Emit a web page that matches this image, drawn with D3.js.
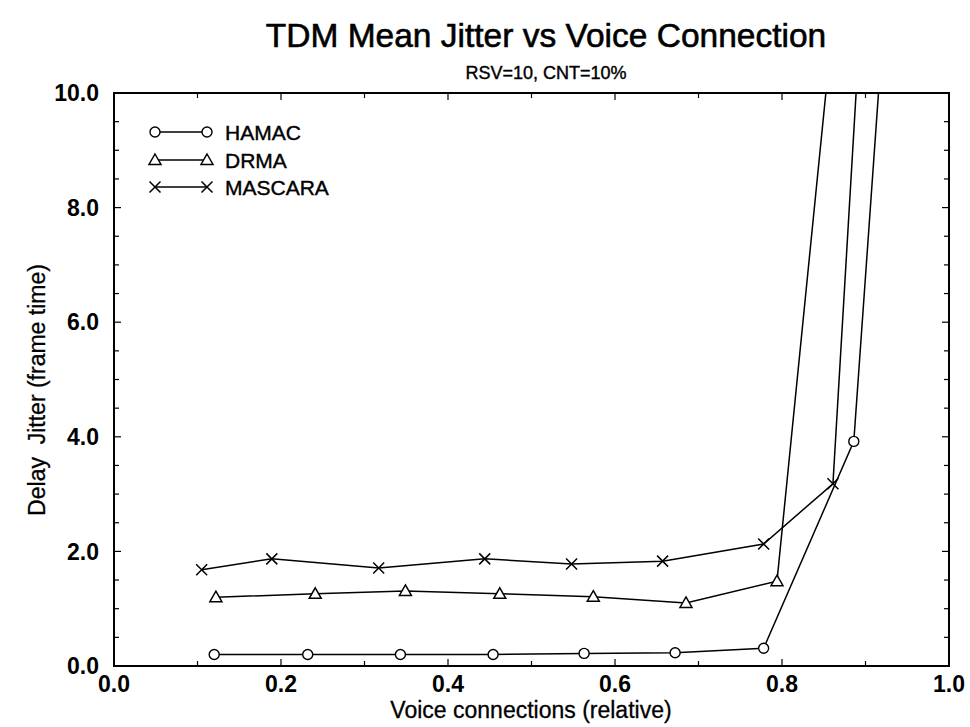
<!DOCTYPE html>
<html>
<head>
<meta charset="utf-8">
<script src="https://cdn.jsdelivr.net/npm/d3@7"></script>
<style>
  html, body { margin: 0; padding: 0; background: #fff; }
  svg { display: block; }
  text { font-family: "Liberation Sans", Arial, Helvetica, sans-serif; fill: #000; }
</style>
</head>
<body>
<svg id="chart" width="970" height="727"></svg>
<script>
// ---- data ----
const seriesNames = ["HAMAC", "DRMA", "MASCARA"];
const hamacX = [0.120, 0.232, 0.343, 0.454, 0.563, 0.672, 0.778, 0.886, 0.935];
const hamacY = [0.20, 0.20, 0.20, 0.20, 0.22, 0.23, 0.31, 3.92, 14.0];
const drmaX = [0.122, 0.241, 0.349, 0.462, 0.574, 0.685, 0.794, 0.880];
const drmaY = [1.20, 1.26, 1.31, 1.26, 1.21, 1.10, 1.48, 14.0];
const mascaraX = [0.105, 0.189, 0.317, 0.444, 0.548, 0.657, 0.778, 0.861, 0.905];
const mascaraY = [1.68, 1.87, 1.71, 1.87, 1.78, 1.83, 2.13, 3.18, 14.0];
const xTickValues = [0.0, 0.2, 0.4, 0.6, 0.8, 1.0];
const yTickValues = [0.0, 2.0, 4.0, 6.0, 8.0, 10.0];

const titleText = "TDM Mean Jitter vs Voice Connection";
const subtitleText = "RSV=10, CNT=10%";
const xTitle = "Voice connections (relative)";
const yTitle = "Delay\u00A0 Jitter (frame time)";

// ---- layout ----
const svg = d3.select("#chart");
const L = 114, R = 949, T = 93, B = 666;
const x = d3.scaleLinear().domain([0, 1]).range([L, R]);
const y = d3.scaleLinear().domain([0, 10]).range([B, T]);

const series = [
  { name: seriesNames[0], xs: hamacX, ys: hamacY, marker: "circle" },
  { name: seriesNames[1], xs: drmaX, ys: drmaY, marker: "triangle" },
  { name: seriesNames[2], xs: mascaraX, ys: mascaraY, marker: "cross" }
];

// clip
svg.append("defs").append("clipPath").attr("id", "plotclip")
  .append("rect").attr("x", L).attr("y", T).attr("width", R - L).attr("height", B - T);

// ticks (inward, all four sides)
const minorX = d3.range(0, 1.0001, 0.1);
const minorY = d3.range(0, 10.0001, 0.5);
const tickG = svg.append("g").attr("stroke", "#000").attr("stroke-width", 1.2);
minorX.forEach(v => {
  const major = Math.abs(Math.round(v * 5) - v * 5) < 1e-6;
  const len = major ? 7 : 5;
  tickG.append("line").attr("x1", x(v)).attr("x2", x(v)).attr("y1", B).attr("y2", B - len);
  tickG.append("line").attr("x1", x(v)).attr("x2", x(v)).attr("y1", T).attr("y2", T + len);
});
minorY.forEach(v => {
  const major = Math.abs(Math.round(v / 2) - v / 2) < 1e-6;
  const len = major ? 7 : 5;
  tickG.append("line").attr("x1", L).attr("x2", L + len).attr("y1", y(v)).attr("y2", y(v));
  tickG.append("line").attr("x1", R).attr("x2", R - len).attr("y1", y(v)).attr("y2", y(v));
});

// frame
svg.append("rect").attr("x", L).attr("y", T).attr("width", R - L).attr("height", B - T)
  .attr("fill", "none").attr("stroke", "#000").attr("stroke-width", 2);

// tick labels
svg.append("g").selectAll("text").data(xTickValues).join("text")
  .attr("x", d => x(d)).attr("y", 692)
  .attr("text-anchor", "middle")
  .style("font-size", "23px").style("font-weight", "bold")
  .text(d => d3.format(".1f")(d));
svg.append("g").selectAll("text").data(yTickValues).join("text")
  .attr("x", 99).attr("y", d => y(d))
  .attr("dy", "0.36em")
  .attr("text-anchor", "end")
  .style("font-size", "23px").style("font-weight", "bold")
  .text(d => d3.format(".1f")(d));

// titles
svg.append("text").attr("x", 546).attr("y", 47).attr("text-anchor", "middle")
  .style("font-size", "33.5px").attr("stroke", "#000").attr("stroke-width", 0.6)
  .text(titleText);
svg.append("text").attr("x", 546).attr("y", 79).attr("text-anchor", "middle")
  .style("font-size", "18px").attr("stroke", "#000").attr("stroke-width", 0.4)
  .text(subtitleText);
svg.append("text").attr("x", 531).attr("y", 718).attr("text-anchor", "middle")
  .style("font-size", "23px").attr("stroke", "#000").attr("stroke-width", 0.3)
  .text(xTitle);
svg.append("text").attr("transform", `translate(45,${390}) rotate(-90)`)
  .attr("text-anchor", "middle")
  .style("font-size", "23px").attr("stroke", "#000").attr("stroke-width", 0.3)
  .text(yTitle);

// markers
function drawMarker(g, type, cx, cy) {
  if (type === "circle") {
    g.append("circle").attr("cx", cx).attr("cy", cy).attr("r", 5)
      .attr("fill", "#fff").attr("stroke", "#000").attr("stroke-width", 1.4);
  } else if (type === "triangle") {
    const s = 6;
    g.append("path")
      .attr("d", `M${cx},${cy - s}L${cx + s},${cy + s * 0.75}L${cx - s},${cy + s * 0.75}Z`)
      .attr("fill", "#fff").attr("stroke", "#000").attr("stroke-width", 1.5);
  } else {
    const s = 5.5;
    g.append("path")
      .attr("d", `M${cx - s},${cy - s}L${cx + s},${cy + s}M${cx - s},${cy + s}L${cx + s},${cy - s}`)
      .attr("fill", "none").attr("stroke", "#000").attr("stroke-width", 1.5);
  }
}

const line = d3.line().x(d => x(d[0])).y(d => y(d[1]));
const plotG = svg.append("g").attr("clip-path", "url(#plotclip)");
series.forEach(s => {
  const pts = s.xs.map((v, i) => [v, s.ys[i]]);
  plotG.append("path").datum(pts).attr("d", line)
    .attr("fill", "none").attr("stroke", "#000").attr("stroke-width", 1.5);
});
series.forEach(s => {
  const g = svg.append("g");
  s.xs.forEach((v, i) => {
    if (s.ys[i] <= 10) drawMarker(g, s.marker, x(v), y(s.ys[i]));
  });
});

// legend
const legY = [132, 160, 187];
series.forEach((s, i) => {
  const g = svg.append("g");
  g.append("line").attr("x1", 155).attr("x2", 207).attr("y1", legY[i]).attr("y2", legY[i])
    .attr("stroke", "#000").attr("stroke-width", 1.5);
  drawMarker(g, s.marker, 155, legY[i]);
  drawMarker(g, s.marker, 207, legY[i]);
  g.append("text").attr("x", 225).attr("y", legY[i]).attr("dy", "0.36em")
    .style("font-size", "21px").attr("stroke", "#000").attr("stroke-width", 0.4)
    .text(s.name);
});
</script>
</body>
</html>
